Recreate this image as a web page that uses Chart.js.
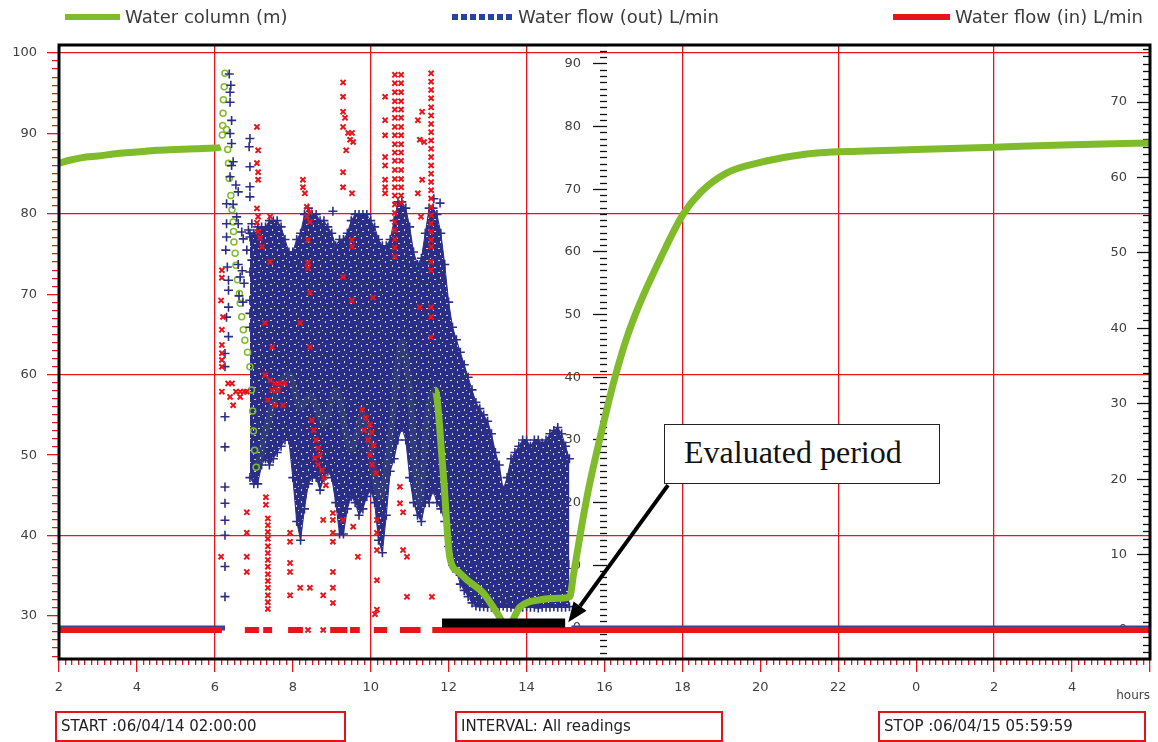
<!DOCTYPE html>
<html lang="en">
<head>
<meta charset="utf-8">
<title>Water column and water flow</title>
<script src="https://cdn.jsdelivr.net/npm/chart.js@4/dist/chart.umd.min.js"></script>
<style>
  html, body { margin: 0; padding: 0; background: #fff; }
  #wrap { position: relative; width: 1158px; height: 742px; overflow: hidden; font-family: "DejaVu Sans", Verdana, sans-serif; }
  #chart { position: absolute; left: 0; top: 0; }
  .leg { position: absolute; top: 4px; height: 26px; line-height: 26px; font-size: 18px; color: #3c3c3c; white-space: nowrap; }
  .sw { display: inline-block; vertical-align: middle; margin-right: 5px; position: relative; top: -1px; }
  .box { position: absolute; top: 711px; height: 31px; box-sizing: border-box; border: 2px solid #e3121b; font-size: 15px; line-height: 27px; padding-left: 4px; color: #222; white-space: nowrap; }
  .note { position: absolute; left: 664px; top: 424px; width: 276px; height: 60px; box-sizing: border-box; border: 1.5px solid #222; background: #fff; font-family: "Liberation Serif", "Times New Roman", serif; font-size: 32px; line-height: 54px; padding-left: 19px; color: #111; white-space: nowrap; }
</style>
</head>
<body>
<div id="wrap">
  <canvas id="chart" width="1158" height="742"></canvas>

  <div class="leg" style="left:65px"><span class="sw" style="width:55px;height:6px;background:#80bb2c"></span>Water column (m)</div>
  <div class="leg" style="left:452px"><span class="sw" style="width:61px;height:6px;background:repeating-linear-gradient(90deg,#25449c 0 6px,transparent 6px 9px)"></span>Water flow (out) L/min</div>
  <div class="leg" style="left:893px"><span class="sw" style="width:57px;height:6px;background:#e8141c"></span>Water flow (in) L/min</div>

  <div class="note">Evaluated period</div>

  <div class="box" style="left:55px;width:291px">START :06/04/14 02:00:00</div>
  <div class="box" style="left:455px;width:268px">INTERVAL: All readings</div>
  <div class="box" style="left:878px;width:268px">STOP :06/04/15 05:59:59</div>
</div>

<script>
// ---- time span (hours since midnight of the start day) ----
const HOUR_MIN = 2;
const HOUR_MAX = 30;

// ---- Water column (m), left axis ----
const waterHours = [
  2.0, 2.3, 2.6, 3.0, 3.5, 4.0, 4.5, 5.0, 5.5, 6.0, 6.15,
  6.19, 6.20, 6.21, 6.22, 6.24, 6.26, 6.30, 6.33, 6.35, 6.37, 6.41, 6.44, 6.47, 6.48, 6.49,
  6.52, 6.54, 6.58, 6.63, 6.65, 6.69, 6.73, 6.77, 6.84, 6.90, 6.94, 6.97, 6.99, 7.02, 7.06,
  7.3, 7.6, 7.9, 8.2, 8.45, 8.8, 9.1, 9.5, 9.8, 10.25, 10.5, 10.8, 11.0, 11.25, 11.45,
  11.65, 11.86, 12.03, 12.25, 12.47, 12.88, 13.24, 13.50, 13.83, 14.34, 14.86, 15.11,
  15.2, 15.4, 15.6, 15.83, 16.05, 16.27, 16.58, 16.91, 17.42, 18.01, 18.45, 19.14,
  20.0, 20.84, 21.53, 22.5, 24.0, 26.0, 28.0, 30.0
];
const waterLevel = [
  86.3, 86.7, 87.0, 87.2, 87.5, 87.7, 87.9, 88.0, 88.1, 88.2, 88.3,
  89.8, 91.0, 92.5, 94.2, 95.8, 97.5, 90.5, 88.0, 86.3, 84.4, 82.3, 80.5, 79.0, 77.8, 76.5,
  75.1, 73.6, 71.8, 70.1, 68.9, 67.2, 65.6, 64.3, 62.8, 61.0, 58.1, 55.5, 53.0, 50.6, 48.5,
  53.0, 58.0, 60.0, 56.0, 57.3, 54.0, 58.0, 50.7, 55.0, 44.8, 52.0, 64.0, 58.0, 44.0, 55.0,
  58.1, 47.8, 37.3, 35.5, 34.5, 32.9, 30.4, 28.6, 31.1, 32.0, 32.2, 32.4,
  35.0, 40.8, 46.0, 51.0, 55.5, 59.7, 64.7, 68.9, 74.3, 79.9, 82.6, 85.1,
  86.4, 87.2, 87.6, 87.8, 88.0, 88.3, 88.6, 88.8
];
// readings that were logged sparsely (drawn as separate circles)
const waterSparseSpan = [6.17, 7.07];
// stretch hidden behind the outflow readings
const waterHiddenSpan = [7.06, 11.65];

// ---- Water flow (out) L/min, middle axis ----
const flowOutZeroRuns = [[2.0, 6.26], [15.15, 30.0]];
const flowOutHours = [
  6.26, 6.26, 6.26, 6.26, 6.26, 6.26, 6.26, 6.26, 6.26, 6.26,
  6.28, 6.30, 6.30, 6.30, 6.30, 6.32, 6.35, 6.35, 6.35, 6.35,
  6.37, 6.39, 6.39, 6.39, 6.39, 6.41, 6.43, 6.43, 6.43, 6.47, 6.47,
  6.54, 6.56, 6.60, 6.60, 6.60, 6.62, 6.65, 6.69, 6.70, 6.72, 6.73, 6.75,
  6.82, 6.86, 6.88, 6.90, 6.90, 6.90, 6.90, 6.90, 6.90, 6.90, 6.90, 6.90, 6.95, 6.95,
  9.03, 11.62, 11.78
];
const flowOutValues = [
  43.8, 41.7, 33.7, 28.9, 22.5, 19.9, 17.2, 14.8, 9.8, 5.0,
  60.3, 67.7, 64.5, 62.4, 49.6, 57.6, 55.5, 53.9, 51.2, 46.5,
  88.4, 85.5, 83.9, 78.9, 72.0, 86.6, 81.0, 77.3, 73.8, 74.4, 67.6,
  70.7, 65.6, 69.6, 64.5, 58.0, 53.0, 56.0, 63.2, 57.0, 52.0, 62.1, 55.0,
  60.3, 63.5, 76.8, 78.1, 73.6, 70.4, 68.8, 62.4, 56.8, 52.3, 50.2, 48.0, 64.5, 58.7,
  66.5, 68.5, 67.8
];
// dense block of outflow readings: upper and lower edge per 6 minutes
const flowOutBandHours = [
  6.9, 7.0, 7.1, 7.2, 7.3, 7.4, 7.5, 7.6, 7.7, 7.8,
  7.9, 8.0, 8.1, 8.2, 8.3, 8.4, 8.5, 8.6, 8.7, 8.8,
  8.9, 9.0, 9.1, 9.2, 9.3, 9.4, 9.5, 9.6, 9.7, 9.8,
  9.9, 10.0, 10.1, 10.2, 10.3, 10.4, 10.5, 10.6, 10.7, 10.8,
  10.9, 11.0, 11.1, 11.2, 11.3, 11.4, 11.5, 11.6, 11.7, 11.8,
  11.9, 12.0, 12.1, 12.2, 12.3, 12.4, 12.5, 12.6, 12.7, 12.8,
  12.9, 13.0, 13.1, 13.2, 13.3, 13.4, 13.5, 13.6, 13.7, 13.8,
  13.9, 14.0, 14.1, 14.2, 14.3, 14.4, 14.5, 14.6, 14.7, 14.8,
  14.9, 15.0, 15.1
];
const flowOutBandHigh = [
  63, 63, 64, 64, 64, 65, 65, 65, 64, 62,
  60, 60, 62, 63, 66, 67, 66, 66, 65, 65,
  64, 63, 61, 62, 62, 63, 65, 66, 66, 66,
  66, 65, 64, 62, 61, 61, 62, 65, 68, 68,
  67, 64, 60, 58, 59, 63, 67, 67, 66, 63,
  58, 52, 48, 46, 44, 42, 40, 38, 36, 35,
  34, 33, 31, 28, 26, 22, 24, 27, 28, 29,
  30, 30, 29, 30, 30, 29.5, 30, 31, 31.5, 32,
  31, 29, 27
];
const flowOutBandLow = [
  24, 23, 23, 26, 27, 26, 27, 28, 29, 30,
  30, 24, 17, 14, 19, 23, 24, 24, 22, 24,
  25, 24, 20, 15, 15, 19, 21, 20, 18, 19,
  21, 22, 20, 14, 12, 18, 25, 27, 30, 32,
  30, 24, 20, 18, 17, 20, 20, 22, 20, 19,
  17, 13, 10, 9, 7, 6, 5, 4, 3.5, 3.4,
  3.4, 3.3, 3.3, 3.3, 3.3, 3.5, 3.3, 3.3, 3.2, 3.3,
  3.3, 3.4, 3.3, 3.3, 3.2, 3.3, 3.3, 3.3, 3.4, 3.3,
  3.3, 3.3, 3.4
];

// ---- Water flow (in) L/min, right axis ----
const flowInZeroRuns = [
  [2.0, 6.18], [6.77, 7.13], [7.24, 7.47], [7.88, 8.26], [8.96, 9.40],
  [9.47, 9.72], [10.08, 10.42], [10.75, 11.28], [11.58, 30.0]
];
const flowInHours = [
  6.18, 6.18, 6.16, 6.21, 6.18, 6.18, 6.18, 6.18, 6.18, 6.18, 6.16,
  6.34, 6.44, 6.54, 6.65, 6.75, 6.82, 6.39, 6.65, 6.47,
  6.82, 6.82, 6.82, 6.82,
  7.08, 7.11, 7.08, 7.11, 7.11, 7.08, 7.11, 7.08, 7.11, 7.16, 7.21,
  7.42, 7.42,
  7.31, 7.31, 7.36, 7.36, 7.36, 7.36, 7.36, 7.36, 7.36, 7.36, 7.36, 7.36, 7.36, 7.36, 7.36, 7.36,
  7.29, 7.42, 7.54, 7.67, 7.80, 7.47, 7.62, 7.36, 7.54, 7.75,
  7.29, 7.47,
  8.19, 7.93, 7.93, 7.93, 7.93, 7.93, 8.19, 8.44,
  8.26, 8.26, 8.31, 8.36, 8.44, 8.36, 8.44, 8.39, 8.39, 8.39, 8.44, 8.44,
  8.49, 8.54, 8.60, 8.65, 8.70, 8.65, 8.75, 8.80, 8.85, 8.57,
  8.78, 8.78, 8.39, 8.78,
  9.03, 9.03, 9.03, 9.03, 9.03, 9.03, 9.03, 9.29, 9.55, 9.67,
  9.29, 9.29, 9.29, 9.34, 9.29, 9.42, 9.52, 9.47, 9.55, 9.37, 9.29, 9.29, 9.52,
  9.52, 9.52, 9.29, 9.52,
  10.06, 9.78, 9.88, 9.98, 9.83, 10.03, 9.93, 10.08, 9.98, 10.03, 10.14,
  10.16, 10.16, 10.16, 10.16, 10.16, 10.11,
  10.37, 10.37, 10.37, 10.37, 10.37, 10.37, 10.37, 10.37,
  10.62, 10.62, 10.62, 10.62, 10.62, 10.62, 10.62, 10.62, 10.62, 10.62, 10.62,
  10.62, 10.62, 10.62, 10.62, 10.62, 10.62, 10.62, 10.62, 10.62, 10.62, 10.62,
  10.78, 10.78, 10.78, 10.78, 10.78, 10.78, 10.78, 10.78,
  10.78, 10.78, 10.78, 10.78, 10.78, 10.78, 10.78, 10.78,
  10.75, 10.75, 10.83, 10.83, 10.93, 10.93,
  11.21, 11.21, 11.32, 11.32, 11.29, 11.26, 11.26, 11.37,
  11.55, 11.55, 11.55, 11.55, 11.55, 11.55, 11.55, 11.55, 11.55,
  11.55, 11.55, 11.55, 11.55, 11.55, 11.55, 11.55, 11.55, 11.55,
  11.55, 11.55, 11.55, 11.55, 11.55, 11.55, 11.55, 11.55, 11.55,
  11.57
];
const flowInValues = [
  47.7, 46.7, 43.7, 41.5, 39.8, 37.8, 36.7, 35.8, 34.9, 31.6, 9.7,
  32.7, 32.7, 31.6, 31.6, 31.6, 31.6, 30.9, 30.9, 29.8,
  15.6, 12.9, 9.7, 7.7,
  66.7, 63.6, 61.9, 60.7, 59.7, 55.9, 54.8, 54.0, 52.8, 52.0, 50.8,
  54.8, 48.8,
  17.6, 16.6, 14.8, 13.9, 13.0, 12.1, 11.1, 10.2, 9.3, 8.4, 7.4, 6.5, 5.6, 4.6, 3.7, 2.8,
  33.8, 33.1, 32.7, 32.7, 32.7, 31.8, 31.8, 30.5, 29.8, 29.8,
  40.7, 37.5,
  40.7, 12.9, 11.7, 8.9, 7.7, 4.6, 5.6, 5.6,
  59.7, 58.7, 57.9, 56.1, 55.4, 54.8, 54.1, 51.7, 48.7, 48.0, 44.7, 37.5,
  27.8, 26.5, 25.2, 24.1, 23.2, 21.9, 21.2, 20.2, 19.2, 22.8,
  14.6, 4.6, 0, 0,
  15.5, 14.6, 12.9, 11.7, 7.7, 5.6, 3.6, 14.6, 13.7, 9.7,
  72.6, 70.7, 68.7, 67.9, 66.7, 65.9, 65.9, 65.0, 64.7, 63.6, 60.7, 58.7, 57.9,
  51.7, 50.8, 46.8, 43.7,
  44.1, 29.2, 28.1, 27.2, 26.5, 26.2, 25.2, 24.5, 23.2, 21.9, 20.8,
  14.6, 12.9, 10.6, 6.6, 2.7, 2.1,
  70.7, 67.6, 65.6, 62.7, 61.6, 59.7, 58.7, 57.9,
  73.6, 72.5, 71.3, 70.1, 69.0, 67.9, 66.7, 65.6, 64.4, 63.3, 62.2,
  61.0, 59.8, 58.7, 57.6, 56.4, 55.3, 54.1, 53.0, 51.8, 50.7, 49.5,
  73.6, 72.5, 71.3, 70.1, 69.0, 67.9, 66.7, 65.6,
  64.4, 63.3, 62.2, 61.0, 59.8, 58.7, 57.6, 56.6,
  19.0, 16.8, 15.6, 10.6, 9.7, 4.4,
  67.6, 57.9, 68.7, 59.7, 54.8, 42.8, 65.0, 64.7,
  73.8, 72.7, 71.6, 70.5, 69.3, 68.2, 67.1, 66.0, 64.9,
  63.8, 62.7, 61.6, 60.5, 59.4, 58.3, 57.2, 56.1, 55.0,
  53.9, 52.8, 51.7, 50.8, 48.8, 47.7, 42.8, 41.5, 38.8,
  4.4
];

// ---- annotation: evaluated period ----
const evaluatedPeriod = [11.83, 14.99];      // hours
const evaluatedPeriodLevel = 0.8;            // on the outflow axis
const arrowFrom = { x: 17.63, y: 22.8 };     // outflow axis units
const arrowTo = { x: 15.07, y: 0.9 };

// ---- grid ----
const verticalGridHours = [6, 10, 14, 18, 22, 26];
const horizontalGridLevels = [40, 60, 80, 100];

// ---- where the two inner axes sit (hours on the x scale) ----
const OUT_AXIS_AT = 16.064;
const OUT_LABELS_AT = 15.40;
const IN_AXIS_AT = HOUR_MAX;
const IN_LABELS_AT = 29.41;

// ---- styling ----
const RED = '#e8141c';
const NAVY = '#2a2e87';
const GREEN = '#80bb2c';
const GREEN_FAINT = 'rgba(128,187,44,0.1)';
const TICK_GRAY = '#404040';
const FONT = '"DejaVu Sans", Verdana, sans-serif';
const tickFont = { family: FONT, size: 13 };

const pts = (xs, ys) => xs.map((x, i) => ({ x, y: ys[i] }));
const runsToPoints = runs => runs.flatMap(([a, b]) => [{ x: a, y: 0 }, { x: b, y: 0 }, { x: b, y: null }]);
const range = (a, b) => Array.from({ length: b - a + 1 }, (_, i) => a + i);
const isEvenHour = v => Math.abs(v - Math.round(v)) < 1e-6 && Math.round(v) % 2 === 0;
const tickVal = c => (c && c.tick ? c.tick.value : NaN);
const tenLabel = v => (v % 10 === 0 && v >= 0 ? String(v) : '');

// speckled fill for the dense block of outflow readings
function cloudTexture() {
  const c = document.createElement('canvas');
  c.width = 12; c.height = 12;
  const g = c.getContext('2d');
  g.fillStyle = NAVY;
  g.fillRect(0, 0, 12, 12);
  g.fillStyle = 'rgba(255,255,255,0.8)';
  g.fillRect(2, 3, 2, 1);
  g.fillRect(8, 1, 1, 2);
  g.fillRect(6, 8, 2, 1);
  g.fillRect(10, 6, 1, 1);
  g.fillRect(1, 9, 1, 2);
  return g.createPattern(c, 'repeat');
}

// black frame round the plot area and the annotation arrow
const framePlugin = {
  id: 'frameAndArrow',
  afterDatasetsDraw(chart) {
    const { ctx, chartArea: a, scales } = chart;
    ctx.save();
    ctx.strokeStyle = '#000';
    ctx.lineWidth = 3;
    ctx.strokeRect(a.left, a.top, a.right - a.left, a.bottom - a.top);

    const x0 = scales.x.getPixelForValue(arrowFrom.x);
    const y0 = scales.yOut.getPixelForValue(arrowFrom.y);
    const x1 = scales.x.getPixelForValue(arrowTo.x);
    const y1 = scales.yOut.getPixelForValue(arrowTo.y);
    const ang = Math.atan2(y1 - y0, x1 - x0);
    const headLen = 20, headW = 8;
    const bx = x1 - headLen * Math.cos(ang);
    const by = y1 - headLen * Math.sin(ang);
    ctx.lineWidth = 4;
    ctx.beginPath();
    ctx.moveTo(x0, y0);
    ctx.lineTo(bx, by);
    ctx.stroke();
    ctx.fillStyle = '#000';
    ctx.beginPath();
    ctx.moveTo(x1, y1);
    ctx.lineTo(bx + headW * Math.sin(ang), by - headW * Math.cos(ang));
    ctx.lineTo(bx - headW * Math.sin(ang), by + headW * Math.cos(ang));
    ctx.closePath();
    ctx.fill();
    ctx.restore();
  }
};

const inSpan = (x, span) => x >= span[0] && x <= span[1];

// tick-mark-only axis and label-only axis sharing one value range
const tickAxis = (at, min, max, from, to, len) => ({
  type: 'linear', position: { x: at }, min, max,
  afterBuildTicks: s => { s.ticks = range(from, to).map(v => ({ value: v })); },
  border: { display: false },
  grid: {
    drawOnChartArea: false, tickColor: '#111', tickWidth: 1.3, tickLength: len,
    tickBorderDash: c => tickVal(c) % 10 === 0 ? [] : [7, 100]
  },
  ticks: { display: false }
});
const labelAxis = (at, min, max, from, to) => ({
  type: 'linear', position: { x: at }, min, max,
  afterBuildTicks: s => { s.ticks = range(from, to).map(v => ({ value: v })); },
  border: { display: false },
  grid: { display: false, drawTicks: false },
  ticks: { autoSkip: false, padding: 0, font: tickFont, color: TICK_GRAY, callback: tenLabel }
});

new Chart(document.getElementById('chart'), {
  type: 'line',
  data: {
    datasets: [
      { // 0: lower edge of the dense outflow block
        data: pts(flowOutBandHours, flowOutBandLow), yAxisID: 'yOut',
        borderColor: NAVY, borderWidth: 1, fill: false,
        pointStyle: 'cross', pointRadius: 4.5, pointBorderWidth: 1.6, pointBorderColor: NAVY,
        order: 6
      },
      { // 1: upper edge, filled down to the lower edge
        data: pts(flowOutBandHours, flowOutBandHigh), yAxisID: 'yOut',
        borderColor: NAVY, borderWidth: 1, fill: 0, backgroundColor: cloudTexture(),
        pointStyle: 'cross', pointRadius: 4.5, pointBorderWidth: 1.6, pointBorderColor: NAVY,
        order: 4
      },
      { // 2: water column
        data: pts(waterHours, waterLevel), yAxisID: 'y',
        borderColor: GREEN, borderWidth: 7, fill: false,
        cubicInterpolationMode: 'monotone',
        segment: {
          borderColor: c => {
            const a = c.p0.parsed.x, b = c.p1.parsed.x;
            if (a >= waterSparseSpan[0] - 0.02 && b <= waterSparseSpan[1]) return 'rgba(0,0,0,0)';
            if (a >= waterHiddenSpan[0] && b <= waterHiddenSpan[1]) return GREEN_FAINT;
            return undefined;
          }
        },
        pointStyle: 'circle',
        pointRadius: c => (c.raw && inSpan(c.raw.x, waterSparseSpan) ? 3 : 0),
        pointBorderColor: GREEN, pointBackgroundColor: 'rgba(0,0,0,0)', pointBorderWidth: 1.5,
        order: 5
      },
      { // 3: outflow zero readings
        data: runsToPoints(flowOutZeroRuns), yAxisID: 'yOut',
        borderColor: '#3b3f9c', borderWidth: 5, pointRadius: 0, fill: false,
        order: 3
      },
      { // 4: scattered outflow readings
        data: pts(flowOutHours, flowOutValues), yAxisID: 'yOut', showLine: false,
        pointStyle: 'cross', pointRadius: 4.5, pointBorderWidth: 1.6, pointBorderColor: NAVY,
        order: 3
      },
      { // 5: inflow readings
        data: pts(flowInHours, flowInValues), yAxisID: 'yIn', showLine: false,
        pointStyle: 'crossRot', pointRadius: 3.6, pointBorderWidth: 2, pointBorderColor: RED,
        order: 2
      },
      { // 6: inflow zero readings
        data: runsToPoints(flowInZeroRuns), yAxisID: 'yIn',
        borderColor: RED, borderWidth: 6, pointRadius: 0, fill: false,
        order: 1
      },
      { // 7: evaluated period bar
        data: evaluatedPeriod.map(x => ({ x, y: evaluatedPeriodLevel })), yAxisID: 'yOut',
        borderColor: '#000', borderWidth: 9, borderCapStyle: 'butt', pointRadius: 0, fill: false,
        order: 0
      }
    ]
  },
  options: {
    responsive: false,
    animation: false,
    events: [],
    layout: { padding: { top: 45, right: 8, bottom: 37, left: 0 } },
    plugins: {
      legend: { display: false },
      tooltip: { enabled: false },
      filler: { drawTime: 'beforeDatasetsDraw', propagate: false }
    },
    scales: {
      x: {
        type: 'linear', position: 'bottom', min: HOUR_MIN, max: HOUR_MAX,
        afterBuildTicks: s => {
          const t = [];
          for (let m = HOUR_MIN * 6; m <= HOUR_MAX * 6; m++) t.push({ value: m / 6 });
          s.ticks = t;
        },
        afterFit: s => { s.height = 46; },
        border: { display: false },
        grid: {
          color: c => verticalGridHours.includes(Math.round(tickVal(c) * 6) / 6) ? RED : 'rgba(0,0,0,0)',
          lineWidth: 1.3, tickColor: RED, tickWidth: 1.3, tickLength: 13,
          tickBorderDash: c => isEvenHour(tickVal(c)) ? [] : [6, 100]
        },
        ticks: {
          autoSkip: false, maxRotation: 0, minRotation: 0, padding: 8,
          font: tickFont, color: TICK_GRAY,
          callback: v => (isEvenHour(v) && v < HOUR_MAX ? String(Math.round(v) % 24) : '')
        },
        title: {
          display: true, text: 'hours', align: 'end', color: TICK_GRAY,
          font: { family: FONT, size: 12 }, padding: { top: 0, bottom: 2 }
        }
      },
      y: {
        type: 'linear', position: 'left', min: 24.65, max: 101,
        afterBuildTicks: s => { s.ticks = range(25, 100).map(v => ({ value: v })); },
        afterFit: s => { s.width = 59; },
        border: { display: false },
        grid: {
          color: c => horizontalGridLevels.includes(tickVal(c)) ? RED : 'rgba(0,0,0,0)',
          lineWidth: 1.3, tickColor: RED, tickWidth: 1.3, tickLength: 12,
          tickBorderDash: c => tickVal(c) % 10 === 0 ? [] : [0, 5, 7, 100]
        },
        ticks: {
          autoSkip: false, padding: 10, font: tickFont, color: TICK_GRAY, callback: tenLabel
        }
      },
      yOut: tickAxis(OUT_AXIS_AT, -4.95, 93.03, -4, 93, 14),
      yOutLabels: labelAxis(OUT_LABELS_AT, -4.95, 93.03, -4, 93),
      yIn: tickAxis(IN_AXIS_AT, -3.84, 77.56, -3, 77, 13),
      yInLabels: labelAxis(IN_LABELS_AT, -3.84, 77.56, -3, 77)
    }
  },
  plugins: [framePlugin]
});
</script>
</body>
</html>
